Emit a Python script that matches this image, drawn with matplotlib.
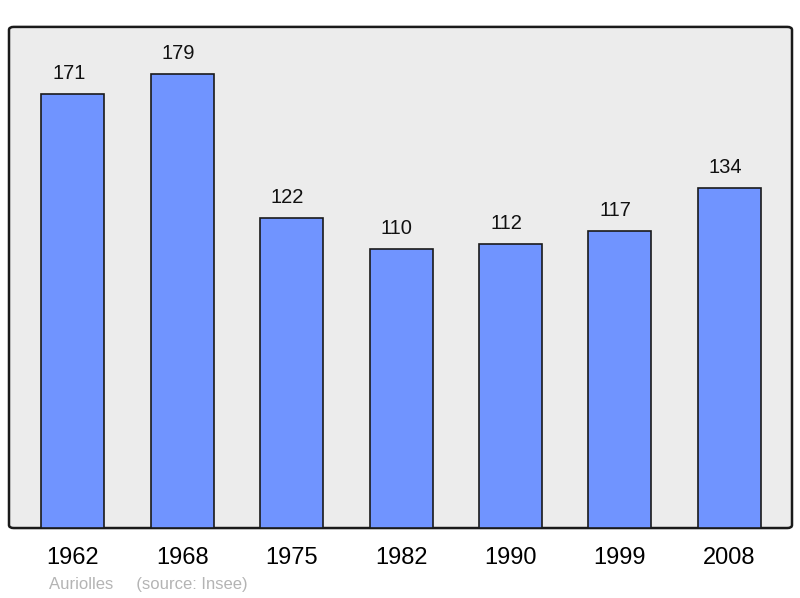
import matplotlib.pyplot as plt
from matplotlib.patches import FancyBboxPatch

years = ['1962', '1968', '1975', '1982', '1990', '1999', '2008']
population = [171, 179, 122, 110, 112, 117, 134]

plt.rcParams['font.family'] = ['Liberation Sans', 'DejaVu Sans']

fig = plt.figure(figsize=(8, 5.98), dpi=100)
ax = fig.add_axes([0.01125, 0.117, 0.97875, 0.838])
ax.set_facecolor('none')

# rounded background frame
frame = FancyBboxPatch((0, 0), 1, 1, boxstyle='round,pad=0,rounding_size=0.006',
                       transform=ax.transAxes, facecolor='#ececec',
                       edgecolor='#1a1a1a', linewidth=1.8, zorder=0, clip_on=False)
ax.add_patch(frame)

x = range(len(years))
bars = ax.bar(x, population, width=0.576, color='#7094ff',
              edgecolor='#1a1a1a', linewidth=1.2, zorder=2)

for xi, v in zip(x, population):
    ax.annotate(str(v), (xi, v), textcoords='offset points', xytext=(-3, 8),
                ha='center', va='bottom', fontsize=14.5, color='#111111')

ax.set_xlim(-0.585, 6.575)
ax.set_ylim(0, 197.4)
ax.set_xticks(list(x))
ax.set_xticklabels(years, fontsize=17)
ax.tick_params(axis='x', length=0, pad=13.5)
ax.set_yticks([])
for s in ax.spines.values():
    s.set_visible(False)

fig.text(49 / 800, 1 - 584 / 598, 'Auriolles     (source: Insee)',
         fontsize=12, color='#b4b4b4', va='center', ha='left')

fig.savefig('out.png', dpi=100)
